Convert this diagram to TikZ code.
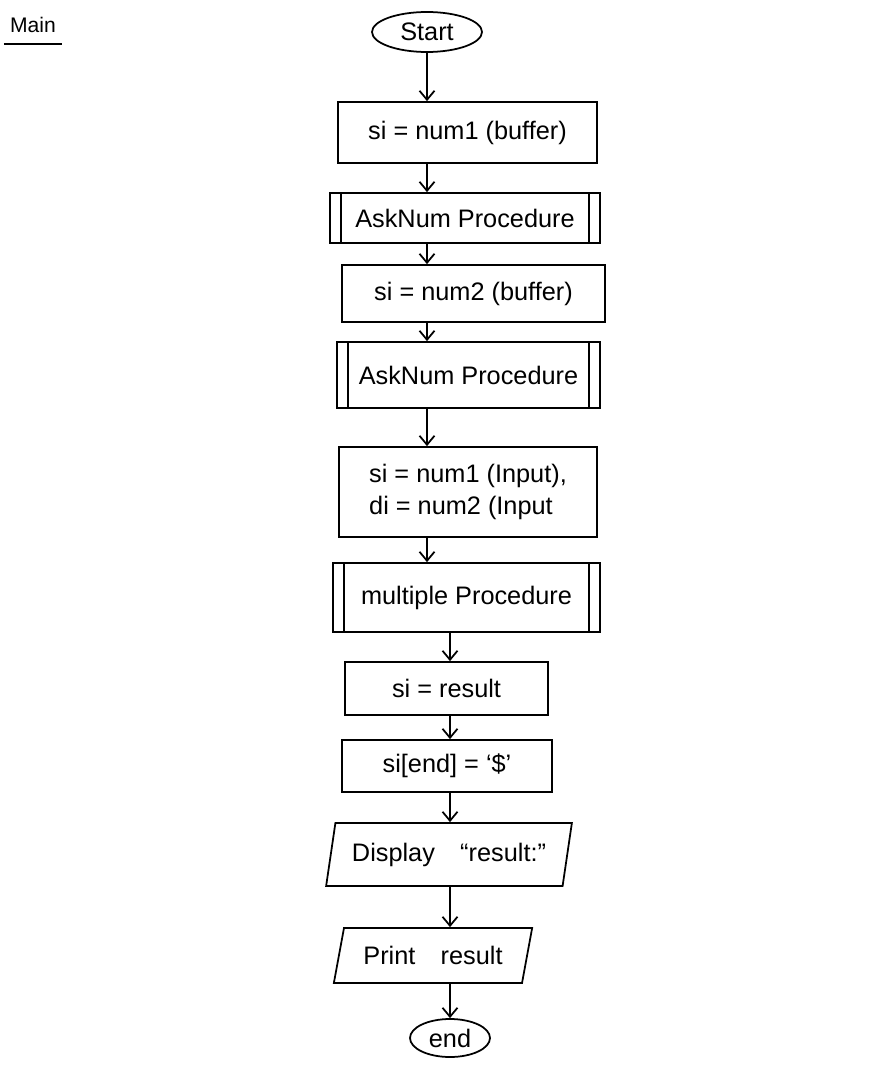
\documentclass[tikz,border=0pt]{standalone}
\usepackage{fontspec}
\setmainfont{Liberation Sans}
\usetikzlibrary{positioning,arrows.meta,shapes.geometric}
\tikzset{
  flowbox/.style={draw, line width=1pt, rectangle, inner sep=2pt, font=\Large, align=center},
  predef/.style={flowbox, path picture={
      \draw[line width=1pt] ([xshift=2.2mm]path picture bounding box.north west) -- ([xshift=2.2mm]path picture bounding box.south west);
      \draw[line width=1pt] ([xshift=-2.2mm]path picture bounding box.north east) -- ([xshift=-2.2mm]path picture bounding box.south east);}},
  terminal/.style={draw, line width=1pt, ellipse, font=\Large, inner sep=1pt},
  iobox/.style={draw, line width=1pt, trapezium, trapezium stretches=true, font=\Large, inner sep=2pt},
  flowarrow/.style={-{Straight Barb[length=1.8mm,width=3mm]}, line width=1pt},
}
\begin{document}
\begin{tikzpicture}
  \useasboundingbox (0,0) rectangle (17.86,-21.6);
  % title
  \node[font=\large] (title) at (0.66,-0.5) {Main};
  \draw[line width=1pt] ([yshift=-1mm]title.south west) -- ([yshift=-1mm]title.south east);
  % flow
  \node[terminal, minimum width=2.2cm, minimum height=0.8cm] (start) at (8.54,-0.64) {Start};
  \node[flowbox, minimum width=5.18cm, minimum height=1.22cm] (setnuma) at (9.35,-2.65) {si = num1 (buffer)};
  \node[predef, minimum width=5.4cm, minimum height=1.0cm] (askfirst) at (9.30,-4.36) {AskNum Procedure};
  \node[flowbox, minimum width=5.26cm, minimum height=1.14cm] (setnumb) at (9.47,-5.87) {si = num2 (buffer)};
  \node[predef, minimum width=5.26cm, minimum height=1.32cm] (asksecond) at (9.37,-7.5) {AskNum Procedure};
  \node[flowbox, minimum width=5.16cm, minimum height=1.8cm, align=left] (setinput) at (9.36,-9.84) {si = num1 (Input),\\di = num2 (Input};
  \node[predef, minimum width=5.34cm, minimum height=1.38cm] (multiply) at (9.33,-11.95) {multiple Procedure};
  \node[flowbox, minimum width=4.06cm, minimum height=1.06cm] (setresult) at (8.93,-13.77) {si = result};
  \node[flowbox, minimum width=4.2cm, minimum height=1.04cm] (setend) at (8.94,-15.32) {si[end] = `\$'};
  \node[iobox, trapezium left angle=75, trapezium right angle=105, minimum width=4.92cm, minimum height=1.26cm] (display) at (8.98,-17.09) {Display\quad ``result:''};
  \node[iobox, trapezium left angle=72, trapezium right angle=108, minimum width=4.0cm, minimum height=1.1cm] (print) at (8.66,-19.11) {Print\quad result};
  \node[terminal, minimum width=1.6cm, minimum height=0.76cm] (stop) at (9.0,-20.76) {end};
  % connectors
  \draw[flowarrow] (start.south) -- (start.south |- setnuma.north);
  \draw[flowarrow] (setnuma.south -| start) -- (askfirst.north -| start);
  \draw[flowarrow] (askfirst.south -| start) -- (setnumb.north -| start);
  \draw[flowarrow] (setnumb.south -| start) -- (asksecond.north -| start);
  \draw[flowarrow] (asksecond.south -| start) -- (setinput.north -| start);
  \draw[flowarrow] (setinput.south -| start) -- (multiply.north -| start);
  \draw[flowarrow] (multiply.south -| stop) -- (setresult.north -| stop);
  \draw[flowarrow] (setresult.south -| stop) -- (setend.north -| stop);
  \draw[flowarrow] (setend.south -| stop) -- (display.north -| stop);
  \draw[flowarrow] (display.south -| stop) -- (print.north -| stop);
  \draw[flowarrow] (print.south -| stop) -- (stop.north);
\end{tikzpicture}
\end{document}
